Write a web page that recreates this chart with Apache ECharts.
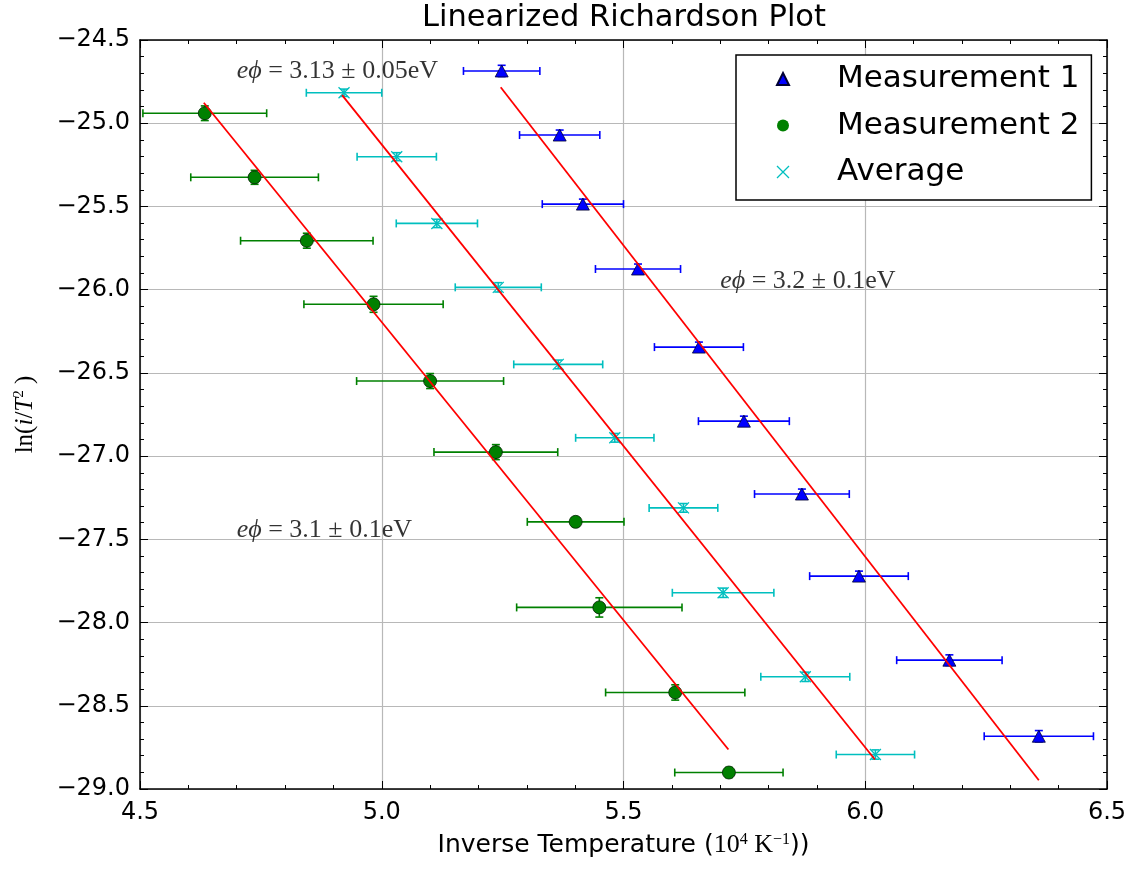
<!DOCTYPE html>
<html>
<head>
<meta charset="utf-8">
<script src="https://cdn.jsdelivr.net/npm/echarts@6/dist/echarts.min.js"></script>
<style>
html,body{margin:0;padding:0;background:#fff;}
#chart{width:1130px;height:869px;}
</style>
</head>
<body>
<div id="chart"></div>
<script>
// ---- Data ----
const m1X    = [5.248, 5.368, 5.416, 5.530, 5.656, 5.749, 5.869, 5.987, 6.174, 6.359];
const m1Y    = [-24.686, -25.071, -25.486, -25.876, -26.345, -26.790, -27.228, -27.721, -28.226, -28.683];
const m1XErr = [0.079, 0.083, 0.084, 0.088, 0.092, 0.094, 0.098, 0.102, 0.109, 0.113];
const m1YErr = [0.034, 0.03, 0.03, 0.03, 0.03, 0.03, 0.03, 0.03, 0.032, 0.034];

const m2X    = [4.634, 4.737, 4.845, 4.983, 5.100, 5.236, 5.401, 5.450, 5.607, 5.718];
const m2Y    = [-24.940, -25.325, -25.706, -26.088, -26.549, -26.976, -27.395, -27.909, -28.420, -28.901];
const m2XErr = [0.128, 0.132, 0.137, 0.144, 0.152, 0.128, 0.100, 0.171, 0.144, 0.112];
const m2YErr = [0.044, 0.042, 0.045, 0.048, 0.045, 0.045, 0.02, 0.058, 0.046, 0.03];

const avgX    = [4.922, 5.031, 5.114, 5.241, 5.365, 5.482, 5.624, 5.706, 5.876, 6.021];
const avgY    = [-24.817, -25.201, -25.602, -25.986, -26.449, -26.890, -27.311, -27.821, -28.326, -28.793];
const avgXErr = [0.078, 0.082, 0.084, 0.089, 0.092, 0.081, 0.071, 0.105, 0.092, 0.081];
const avgYErr = [0.022, 0.024, 0.025, 0.028, 0.026, 0.026, 0.026, 0.028, 0.028, 0.028];

// fitted lines: [start, end]
const fit2   = [[4.632, -24.877], [5.717, -28.763]];
const fitAvg = [[4.918, -24.831], [6.020, -28.823]];
const fit1   = [[5.246, -24.784], [6.359, -28.947]];

// annotations
const annX    = [4.70, 5.70, 4.70];
const annY    = [-24.69, -25.95, -27.445];
const annText = ['3.13 \u00b1 0.05', '3.2 \u00b1 0.1', '3.1 \u00b1 0.1'];

const xTicks = {min: 4.5, max: 6.5, interval: 0.5};
const yTicks = {min: -29.0, max: -24.5, interval: 0.5};

const seriesNames = ['Measurement 1', 'Measurement 2', 'Average'];
// ------------------------------------------------

const BLUE = '#0000ff', GREEN = '#008000', CYAN = '#00bfbf', RED = '#ff0000';
const X_PATH = 'path://M0,0L10,10M0,10L10,0';

function zip4(a, b, c, d) { return a.map((v, i) => [v, b[i], c[i], d[i]]); }

function errRender(color) {
  return function (params, api) {
    const x = api.value(0), y = api.value(1), ex = api.value(2), ey = api.value(3);
    const l = api.coord([x - ex, y]), r = api.coord([x + ex, y]);
    const t = api.coord([x, y + ey]), b = api.coord([x, y - ey]);
    const cap = 4;
    const style = {stroke: color, lineWidth: 1.6};
    const ln = (x1, y1, x2, y2) => ({type: 'line', shape: {x1, y1, x2, y2}, style});
    return {type: 'group', children: [
      ln(l[0], l[1], r[0], r[1]),
      ln(l[0], l[1] - cap, l[0], l[1] + cap),
      ln(r[0], r[1] - cap, r[0], r[1] + cap),
      ln(t[0], t[1], b[0], b[1]),
      ln(t[0] - cap, t[1], t[0] + cap, t[1]),
      ln(b[0] - cap, b[1], b[0] + cap, b[1])
    ]};
  };
}

const tickFmt = v => v.toFixed(1).replace('-', '\u2212');

function xAxisDef(pos, labels) {
  return {
    type: 'value', position: pos, min: xTicks.min, max: xTicks.max, interval: xTicks.interval,
    axisLine: {show: true, onZero: false, lineStyle: {color: '#000', width: 1.5}},
    axisTick: {show: true, inside: true, length: 8, lineStyle: {color: '#000', width: 1}},
    minorTick: {show: true, splitNumber: 5, length: 4, lineStyle: {color: '#000', width: 1}},
    splitLine: {show: labels, lineStyle: {color: '#b8b8b8', width: 1.2}},
    axisLabel: {show: labels, fontFamily: 'DejaVu Sans', fontSize: 24, color: '#000', margin: 12, formatter: tickFmt},
    name: labels ? '{s|Inverse Temperature (}{m|10}{sup|4}{m| K}{sup|\u22121}{s|))}' : '',
    nameLocation: 'middle', nameGap: 43,
    nameTextStyle: {
      rich: {
        s: {fontFamily: 'DejaVu Sans', fontSize: 25, color: '#000'},
        m: {fontFamily: 'Liberation Serif', fontSize: 26, color: '#000'},
        sup: {fontFamily: 'Liberation Serif', fontSize: 16, color: '#000', verticalAlign: 'top', padding: [0, 0, 11, 0]}
      }
    }
  };
}
function yAxisDef(pos, labels) {
  return {
    type: 'value', position: pos, min: yTicks.min, max: yTicks.max, interval: yTicks.interval,
    axisLine: {show: true, onZero: false, lineStyle: {color: '#000', width: 1.5}},
    axisTick: {show: true, inside: true, length: 8, lineStyle: {color: '#000', width: 1}},
    minorTick: {show: true, splitNumber: 5, length: 4, lineStyle: {color: '#000', width: 1}},
    splitLine: {show: labels, lineStyle: {color: '#b8b8b8', width: 1.2}},
    axisLabel: {show: labels, fontFamily: 'DejaVu Sans', fontSize: 24, color: '#000', margin: 10, formatter: tickFmt},
    name: labels ? '{m|ln(}{i|i}{m|/}{i|T}{sup|2}{m| )}' : '',
    nameLocation: 'middle', nameGap: 102, nameRotate: 90,
    nameTextStyle: {
      rich: {
        m: {fontFamily: 'Liberation Serif', fontSize: 25, color: '#000'},
        i: {fontFamily: 'Liberation Serif', fontStyle: 'italic', fontSize: 25, color: '#000'},
        sup: {fontFamily: 'Liberation Serif', fontSize: 15, color: '#000', verticalAlign: 'top', padding: [0, 0, 11, 0]}
      }
    }
  };
}

const chart = echarts.init(document.getElementById('chart'), null, {renderer: 'canvas'});

const option = {
  backgroundColor: '#fff',
  animation: false,
  title: {
    text: 'Linearized Richardson Plot', left: 624, top: 3, textAlign: 'center', padding: 0,
    textStyle: {fontFamily: 'DejaVu Sans', fontSize: 30.5, fontWeight: 'normal', color: '#000'}
  },
  grid: {left: 140, right: 23, top: 40, bottom: 80, containLabel: false},
  xAxis: [xAxisDef('bottom', true), xAxisDef('top', false)],
  yAxis: [yAxisDef('left', true), yAxisDef('right', false)],
  legend: {
    orient: 'vertical', left: 736, top: 55,
    padding: [8, 12, 12, 40], itemGap: 14.5, itemWidth: 12, itemHeight: 12,
    borderColor: '#000', borderWidth: 1.5, backgroundColor: '#fff',
    textStyle: {fontFamily: 'DejaVu Sans', fontSize: 31, color: '#000', lineHeight: 32, padding: [0, 0, 0, 43]},
    data: [
      {name: seriesNames[0], icon: 'triangle'},
      {name: seriesNames[1], icon: 'circle', itemStyle: {borderWidth: 0}},
      {name: seriesNames[2], icon: X_PATH, itemStyle: {color: 'rgba(0,0,0,0)', borderColor: CYAN, borderWidth: 1.3}}
    ],
    selectedMode: false
  },
  series: [
    {type: 'custom', name: 'err1', renderItem: errRender(BLUE), data: zip4(m1X, m1Y, m1XErr, m1YErr),
     encode: {x: 0, y: 1}, z: 2, silent: true},
    {type: 'scatter', name: seriesNames[0], symbol: 'triangle', symbolSize: [13, 12],
     itemStyle: {color: BLUE, borderColor: '#000033', borderWidth: 0.8, opacity: 1},
     data: m1X.map((x, i) => [x, m1Y[i]]), z: 3},
    {type: 'custom', name: 'err2', renderItem: errRender(GREEN), data: zip4(m2X, m2Y, m2XErr, m2YErr),
     encode: {x: 0, y: 1}, z: 2, silent: true},
    {type: 'scatter', name: seriesNames[1], symbol: 'circle', symbolSize: 13,
     itemStyle: {color: GREEN, borderColor: '#002000', borderWidth: 0.8, opacity: 1},
     data: m2X.map((x, i) => [x, m2Y[i]]), z: 3},
    {type: 'custom', name: 'errA', renderItem: errRender(CYAN), data: zip4(avgX, avgY, avgXErr, avgYErr),
     encode: {x: 0, y: 1}, z: 2, silent: true},
    {type: 'scatter', name: seriesNames[2], symbol: X_PATH, symbolSize: 11,
     itemStyle: {color: 'rgba(0,0,0,0)', borderColor: CYAN, borderWidth: 1.3, opacity: 1},
     data: avgX.map((x, i) => [x, avgY[i]]), z: 3},
    {type: 'line', name: 'fit2', data: fit2, symbol: 'none', lineStyle: {color: RED, width: 1.8}, z: 4, silent: true},
    {type: 'line', name: 'fitAvg', data: fitAvg, symbol: 'none', lineStyle: {color: RED, width: 1.8}, z: 4, silent: true},
    {type: 'line', name: 'fit1', data: fit1, symbol: 'none', lineStyle: {color: RED, width: 1.8}, z: 4, silent: true},
    {type: 'scatter', name: 'annotations', symbolSize: 0, silent: true, z: 5,
     data: annX.map((x, i) => [x, annY[i]]),
     label: {
       show: true, position: 'right', distance: 0,
       formatter: p => '{i|e\u03d5}{m| = ' + annText[p.dataIndex] + 'eV}',
       rich: {
         i: {fontFamily: 'Liberation Serif', fontStyle: 'italic', fontSize: 26, color: '#000'},
         m: {fontFamily: 'Liberation Serif', fontSize: 26, color: '#000'}
       }
     }}
  ]
};
chart.setOption(option);
</script>
</body>
</html>
